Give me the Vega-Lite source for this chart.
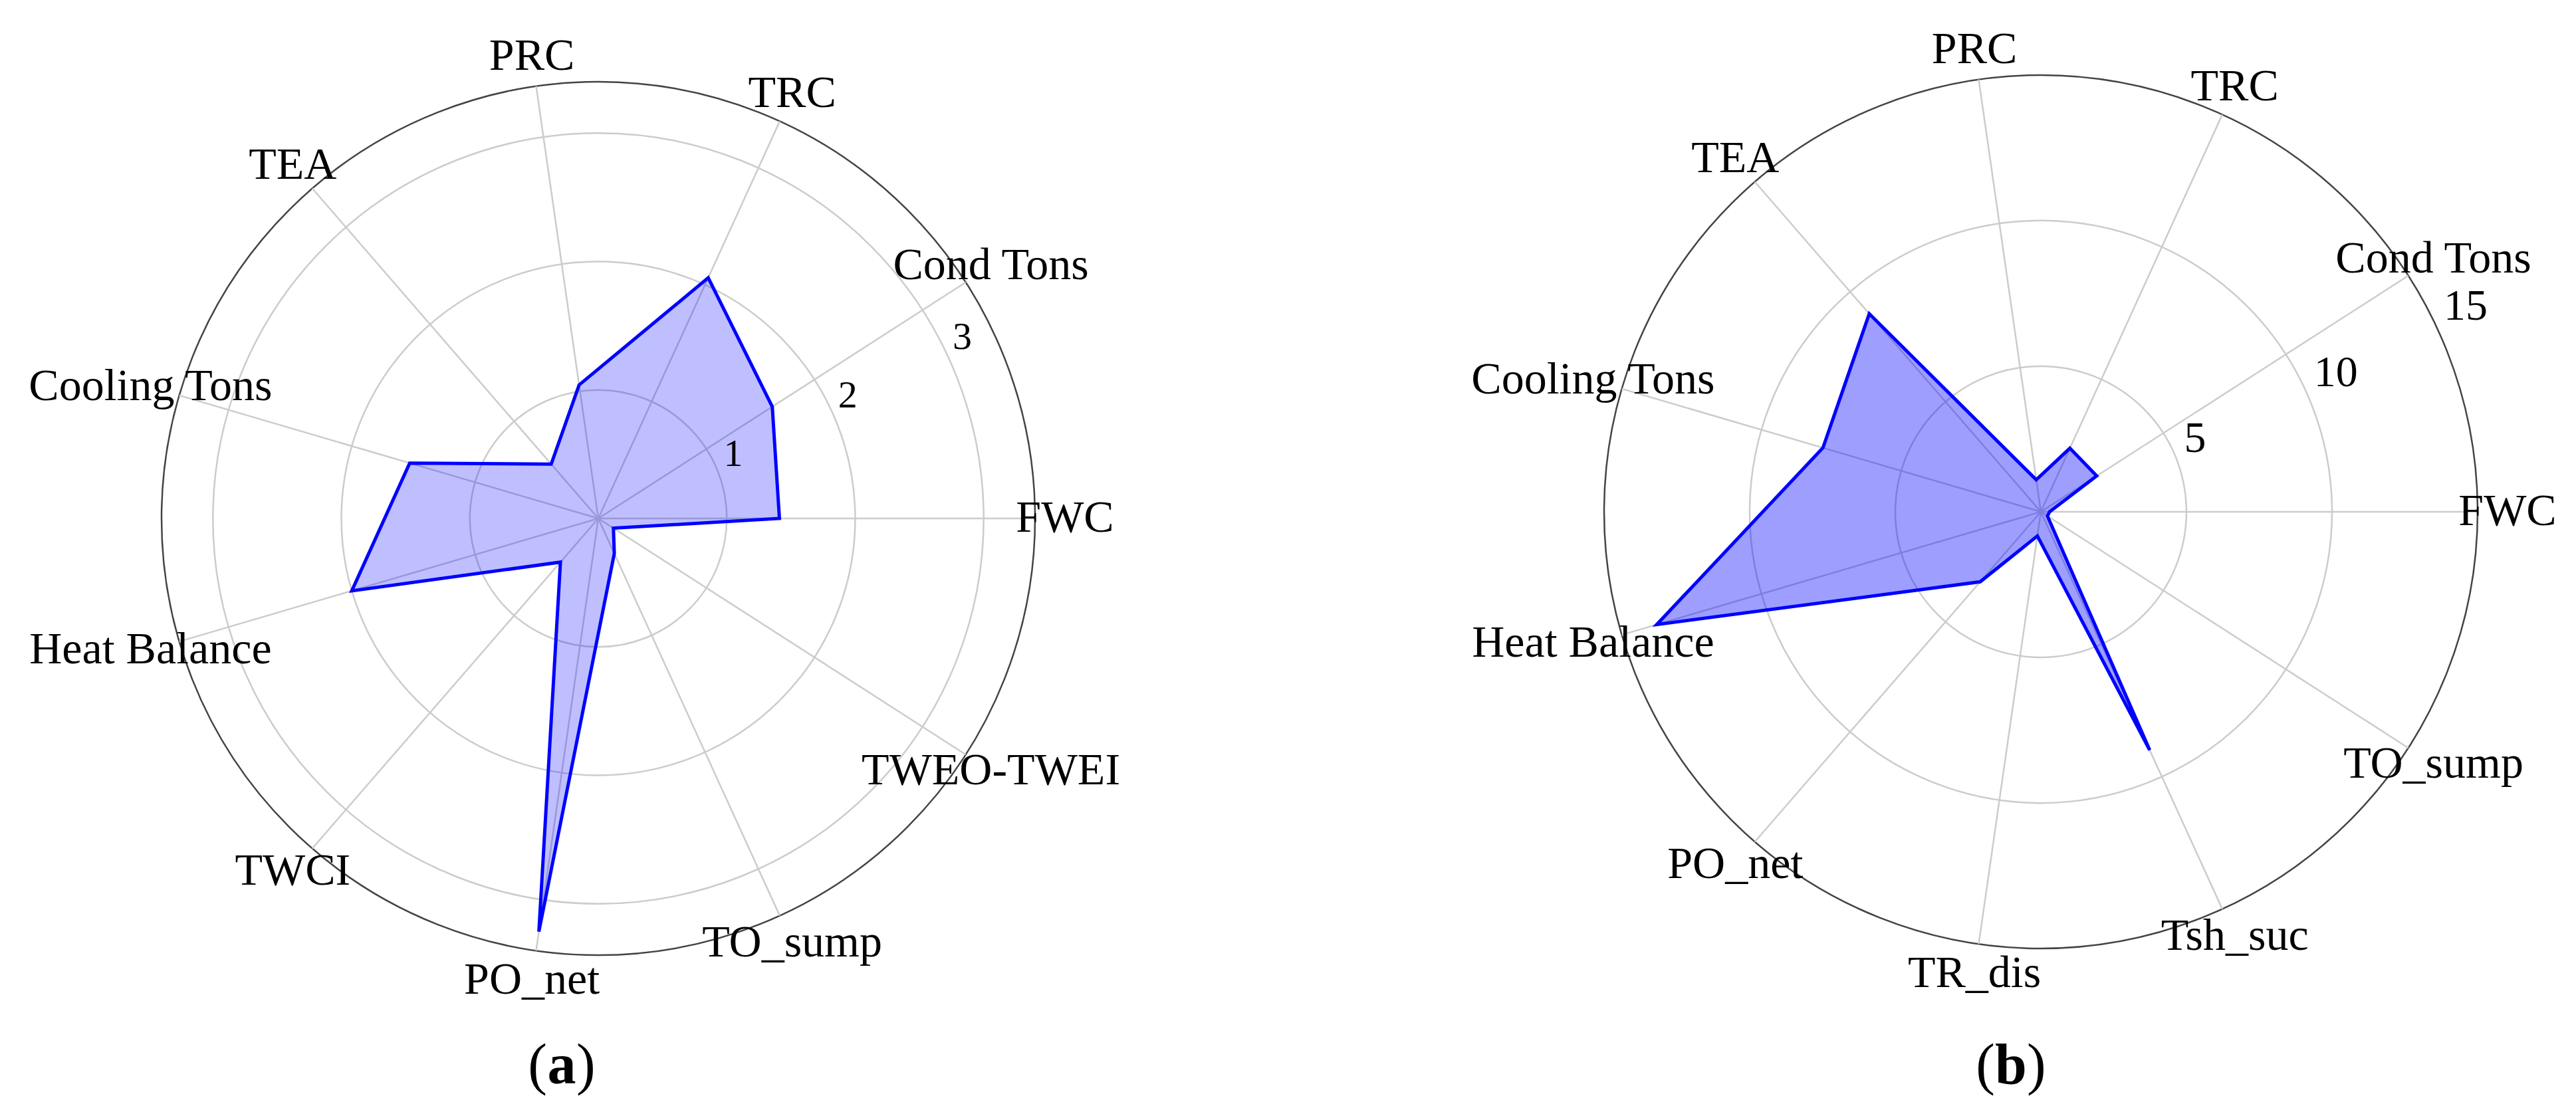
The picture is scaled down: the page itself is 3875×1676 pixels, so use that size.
{
  "$schema": "https://vega.github.io/schema/vega-lite/v6.json",
  "background": "white",
  "padding": 0,
  "spacing": 0,
  "bounds": "flush",
  "config": {"view": {"stroke": null}, "font": "Liberation Serif", "text": {"font": "Liberation Serif", "color": "#000000"}},
  "datasets": {
    "A": [
      {"var": "FWC", "idx": 0, "value": 1.41},
      {"var": "Cond Tons", "idx": 1, "value": 1.61},
      {"var": "TRC", "idx": 2, "value": 2.06},
      {"var": "PRC", "idx": 3, "value": 1.05},
      {"var": "TEA", "idx": 4, "value": 0.56},
      {"var": "Cooling Tons", "idx": 5, "value": 1.53},
      {"var": "Heat Balance", "idx": 6, "value": 2.0},
      {"var": "TWCI", "idx": 7, "value": 0.45},
      {"var": "PO_net", "idx": 8, "value": 3.25},
      {"var": "TO_sump", "idx": 9, "value": 0.30},
      {"var": "TWEO-TWEI", "idx": 10, "value": 0.14}
    ],
    "B": [
      {"var": "FWC", "idx": 0, "value": 0.30},
      {"var": "Cond Tons", "idx": 1, "value": 2.28},
      {"var": "TRC", "idx": 2, "value": 2.40},
      {"var": "PRC", "idx": 3, "value": 1.11},
      {"var": "TEA", "idx": 4, "value": 9.0},
      {"var": "Cooling Tons", "idx": 5, "value": 7.8},
      {"var": "Heat Balance", "idx": 6, "value": 13.75},
      {"var": "PO_net", "idx": 7, "value": 3.18},
      {"var": "TR_dis", "idx": 8, "value": 0.84},
      {"var": "Tsh_suc", "idx": 9, "value": 9.0},
      {"var": "TO_sump", "idx": 10, "value": 0.27}
    ],
    "ringsA": [
      {"level": 1, "kind": "grid"}, {"level": 2, "kind": "grid"}, {"level": 3, "kind": "grid"}, {"level": 3.4, "kind": "outer"}
    ],
    "ringsB": [
      {"level": 5, "kind": "grid"}, {"level": 10, "kind": "grid"}, {"level": 15, "kind": "outer"}
    ],
    "ticksA": [{"label": "1", "level": 1}, {"label": "2", "level": 2}, {"label": "3", "level": 3}],
    "ticksB": [{"label": "5", "level": 5}, {"label": "10", "level": 10}, {"label": "15", "level": 15}],
    "capA": [{"cap": "a"}],
    "capB": [{"cap": "b"}]
  },
  "resolve": {"scale": {"x": "independent", "y": "independent", "size": "independent"}},
  "hconcat": [
    {
      "width": 1800,
      "height": 1676,
      "layer": [
        {
          "data": {"name": "ringsA"},
          "transform": [{"calculate": "datum.level/3.4", "as": "r"}, {"calculate": "0", "as": "c0"}],
          "mark": {"type": "point", "shape": "circle", "filled": false, "opacity": 1, "strokeWidth": 2.5},
          "encoding": {
            "x": {"field": "c0", "type": "quantitative", "scale": {"domain": [-1.36986, 1.36986], "nice": false, "zero": false}, "axis": null},
            "y": {"field": "c0", "type": "quantitative", "scale": {"domain": [-1.36377, 1.18721], "nice": false, "zero": false}, "axis": null},
            "size": {"field": "r", "type": "quantitative", "scale": {"type": "pow", "exponent": 2, "domain": [0, 1], "range": [0, 1726596], "zero": true}, "legend": null},
            "stroke": {"condition": {"test": "datum.kind === 'outer'", "value": "#444444"}, "value": "#cccccc"}
          }
        },
        {
          "data": {"name": "A"},
          "transform": [
            {"calculate": "datum.idx*2*PI/11", "as": "ang"},
            {"calculate": "cos(datum.ang)", "as": "ex"},
            {"calculate": "sin(datum.ang)", "as": "ey"},
            {"calculate": "0", "as": "c0"}
          ],
          "mark": {"type": "rule", "stroke": "#cccccc", "strokeWidth": 2.5},
          "encoding": {
            "x": {"field": "c0", "type": "quantitative", "scale": {"domain": [-1.36986, 1.36986], "nice": false, "zero": false}, "axis": null},
            "y": {"field": "c0", "type": "quantitative", "scale": {"domain": [-1.36377, 1.18721], "nice": false, "zero": false}, "axis": null},
            "x2": {"field": "ex"},
            "y2": {"field": "ey"}
          }
        },
        {
          "data": {"name": "A"},
          "transform": [
            {"calculate": "datum.idx*2*PI/11", "as": "ang"},
            {"calculate": "datum.value/3.4", "as": "r"},
            {"calculate": "datum.r*cos(datum.ang)", "as": "px"},
            {"calculate": "datum.r*sin(datum.ang)", "as": "py"}
          ],
          "mark": {"type": "line", "interpolate": "linear-closed", "fill": "#0000ff", "fillOpacity": 0.25, "stroke": "#0000ff", "strokeWidth": 5},
          "encoding": {
            "x": {"field": "px", "type": "quantitative", "scale": {"domain": [-1.36986, 1.36986], "nice": false, "zero": false}, "axis": null},
            "y": {"field": "py", "type": "quantitative", "scale": {"domain": [-1.36377, 1.18721], "nice": false, "zero": false}, "axis": null},
            "order": {"field": "idx", "type": "quantitative"}
          }
        },
        {
          "data": {"name": "A"},
          "transform": [
            {"calculate": "datum.idx*2*PI/11", "as": "ang"},
            {"calculate": "1.0685*cos(datum.ang)", "as": "lx"},
            {"calculate": "1.0685*sin(datum.ang)", "as": "ly"}
          ],
          "mark": {"type": "text", "fontSize": 68, "align": "center", "baseline": "middle"},
          "encoding": {
            "x": {"field": "lx", "type": "quantitative", "scale": {"domain": [-1.36986, 1.36986], "nice": false, "zero": false}, "axis": null},
            "y": {"field": "ly", "type": "quantitative", "scale": {"domain": [-1.36377, 1.18721], "nice": false, "zero": false}, "axis": null},
            "text": {"field": "var", "type": "nominal"}
          }
        },
        {
          "data": {"name": "ticksA"},
          "transform": [
            {"calculate": "datum.level/3.4 + 0.028", "as": "rr"},
            {"calculate": "datum.rr*cos(27*PI/180)", "as": "tx"},
            {"calculate": "datum.rr*sin(27*PI/180)", "as": "ty"}
          ],
          "mark": {"type": "text", "fontSize": 58, "align": "left", "baseline": "middle"},
          "encoding": {
            "x": {"field": "tx", "type": "quantitative", "scale": {"domain": [-1.36986, 1.36986], "nice": false, "zero": false}, "axis": null},
            "y": {"field": "ty", "type": "quantitative", "scale": {"domain": [-1.36377, 1.18721], "nice": false, "zero": false}, "axis": null},
            "text": {"field": "label", "type": "nominal"}
          }
        },
        {
          "data": {"name": "capA"},
          "transform": [{"calculate": "-0.0837", "as": "cx"}, {"calculate": "-1.2938", "as": "cy"}],
          "mark": {"type": "text", "fontSize": 86, "fontWeight": "bold", "align": "center", "baseline": "alphabetic"},
          "encoding": {
            "x": {"field": "cx", "type": "quantitative", "scale": {"domain": [-1.36986, 1.36986], "nice": false, "zero": false}, "axis": null},
            "y": {"field": "cy", "type": "quantitative", "scale": {"domain": [-1.36377, 1.18721], "nice": false, "zero": false}, "axis": null},
            "text": {"field": "cap", "type": "nominal"}
          }
        },
        {
          "data": {"name": "capA"},
          "transform": [{"calculate": "-0.0837", "as": "cx"}, {"calculate": "-1.2938", "as": "cy"}],
          "mark": {"type": "text", "text": "(", "fontSize": 86, "align": "right", "baseline": "alphabetic", "dx": -22},
          "encoding": {
            "x": {"field": "cx", "type": "quantitative", "scale": {"domain": [-1.36986, 1.36986], "nice": false, "zero": false}, "axis": null},
            "y": {"field": "cy", "type": "quantitative", "scale": {"domain": [-1.36377, 1.18721], "nice": false, "zero": false}, "axis": null}
          }
        },
        {
          "data": {"name": "capA"},
          "transform": [{"calculate": "-0.0837", "as": "cx"}, {"calculate": "-1.2938", "as": "cy"}],
          "mark": {"type": "text", "text": ")", "fontSize": 86, "align": "left", "baseline": "alphabetic", "dx": 22},
          "encoding": {
            "x": {"field": "cx", "type": "quantitative", "scale": {"domain": [-1.36986, 1.36986], "nice": false, "zero": false}, "axis": null},
            "y": {"field": "cy", "type": "quantitative", "scale": {"domain": [-1.36377, 1.18721], "nice": false, "zero": false}, "axis": null}
          }
        }
      ]
    },
    {
      "width": 2075,
      "height": 1676,
      "layer": [
        {
          "data": {"name": "ringsB"},
          "transform": [{"calculate": "datum.level/15", "as": "r"}, {"calculate": "0", "as": "c0"}],
          "mark": {"type": "point", "shape": "circle", "filled": false, "opacity": 1, "strokeWidth": 2.5},
          "encoding": {
            "x": {"field": "c0", "type": "quantitative", "scale": {"domain": [-1.93303, 1.22527], "nice": false, "zero": false}, "axis": null},
            "y": {"field": "c0", "type": "quantitative", "scale": {"domain": [-1.379, 1.17199], "nice": false, "zero": false}, "axis": null},
            "size": {"field": "r", "type": "quantitative", "scale": {"type": "pow", "exponent": 2, "domain": [0, 1], "range": [0, 1726596], "zero": true}, "legend": null},
            "stroke": {"condition": {"test": "datum.kind === 'outer'", "value": "#444444"}, "value": "#cccccc"}
          }
        },
        {
          "data": {"name": "B"},
          "transform": [
            {"calculate": "datum.idx*2*PI/11", "as": "ang"},
            {"calculate": "cos(datum.ang)", "as": "ex"},
            {"calculate": "sin(datum.ang)", "as": "ey"},
            {"calculate": "0", "as": "c0"}
          ],
          "mark": {"type": "rule", "stroke": "#cccccc", "strokeWidth": 2.5},
          "encoding": {
            "x": {"field": "c0", "type": "quantitative", "scale": {"domain": [-1.93303, 1.22527], "nice": false, "zero": false}, "axis": null},
            "y": {"field": "c0", "type": "quantitative", "scale": {"domain": [-1.379, 1.17199], "nice": false, "zero": false}, "axis": null},
            "x2": {"field": "ex"},
            "y2": {"field": "ey"}
          }
        },
        {
          "data": {"name": "B"},
          "transform": [
            {"calculate": "datum.idx*2*PI/11", "as": "ang"},
            {"calculate": "datum.value/15", "as": "r"},
            {"calculate": "datum.r*cos(datum.ang)", "as": "px"},
            {"calculate": "datum.r*sin(datum.ang)", "as": "py"}
          ],
          "mark": {"type": "line", "interpolate": "linear-closed", "fill": "#0000ff", "fillOpacity": 0.38, "stroke": "#0000ff", "strokeWidth": 5},
          "encoding": {
            "x": {"field": "px", "type": "quantitative", "scale": {"domain": [-1.93303, 1.22527], "nice": false, "zero": false}, "axis": null},
            "y": {"field": "py", "type": "quantitative", "scale": {"domain": [-1.379, 1.17199], "nice": false, "zero": false}, "axis": null},
            "order": {"field": "idx", "type": "quantitative"}
          }
        },
        {
          "data": {"name": "B"},
          "transform": [
            {"calculate": "datum.idx*2*PI/11", "as": "ang"},
            {"calculate": "1.0685*cos(datum.ang)", "as": "lx"},
            {"calculate": "1.0685*sin(datum.ang)", "as": "ly"}
          ],
          "mark": {"type": "text", "fontSize": 68, "align": "center", "baseline": "middle"},
          "encoding": {
            "x": {"field": "lx", "type": "quantitative", "scale": {"domain": [-1.93303, 1.22527], "nice": false, "zero": false}, "axis": null},
            "y": {"field": "ly", "type": "quantitative", "scale": {"domain": [-1.379, 1.17199], "nice": false, "zero": false}, "axis": null},
            "text": {"field": "var", "type": "nominal"}
          }
        },
        {
          "data": {"name": "ticksB"},
          "transform": [
            {"calculate": "datum.level/15 + 0.035", "as": "rr"},
            {"calculate": "datum.rr*cos(27*PI/180)", "as": "tx"},
            {"calculate": "datum.rr*sin(27*PI/180)", "as": "ty"}
          ],
          "mark": {"type": "text", "fontSize": 66, "align": "left", "baseline": "middle"},
          "encoding": {
            "x": {"field": "tx", "type": "quantitative", "scale": {"domain": [-1.93303, 1.22527], "nice": false, "zero": false}, "axis": null},
            "y": {"field": "ty", "type": "quantitative", "scale": {"domain": [-1.379, 1.17199], "nice": false, "zero": false}, "axis": null},
            "text": {"field": "label", "type": "nominal"}
          }
        },
        {
          "data": {"name": "capB"},
          "transform": [{"calculate": "-0.0685", "as": "cx"}, {"calculate": "-1.309", "as": "cy"}],
          "mark": {"type": "text", "fontSize": 86, "fontWeight": "bold", "align": "center", "baseline": "alphabetic"},
          "encoding": {
            "x": {"field": "cx", "type": "quantitative", "scale": {"domain": [-1.93303, 1.22527], "nice": false, "zero": false}, "axis": null},
            "y": {"field": "cy", "type": "quantitative", "scale": {"domain": [-1.379, 1.17199], "nice": false, "zero": false}, "axis": null},
            "text": {"field": "cap", "type": "nominal"}
          }
        },
        {
          "data": {"name": "capB"},
          "transform": [{"calculate": "-0.0685", "as": "cx"}, {"calculate": "-1.309", "as": "cy"}],
          "mark": {"type": "text", "text": "(", "fontSize": 86, "align": "right", "baseline": "alphabetic", "dx": -24},
          "encoding": {
            "x": {"field": "cx", "type": "quantitative", "scale": {"domain": [-1.93303, 1.22527], "nice": false, "zero": false}, "axis": null},
            "y": {"field": "cy", "type": "quantitative", "scale": {"domain": [-1.379, 1.17199], "nice": false, "zero": false}, "axis": null}
          }
        },
        {
          "data": {"name": "capB"},
          "transform": [{"calculate": "-0.0685", "as": "cx"}, {"calculate": "-1.309", "as": "cy"}],
          "mark": {"type": "text", "text": ")", "fontSize": 86, "align": "left", "baseline": "alphabetic", "dx": 24},
          "encoding": {
            "x": {"field": "cx", "type": "quantitative", "scale": {"domain": [-1.93303, 1.22527], "nice": false, "zero": false}, "axis": null},
            "y": {"field": "cy", "type": "quantitative", "scale": {"domain": [-1.379, 1.17199], "nice": false, "zero": false}, "axis": null}
          }
        }
      ]
    }
  ]
}
